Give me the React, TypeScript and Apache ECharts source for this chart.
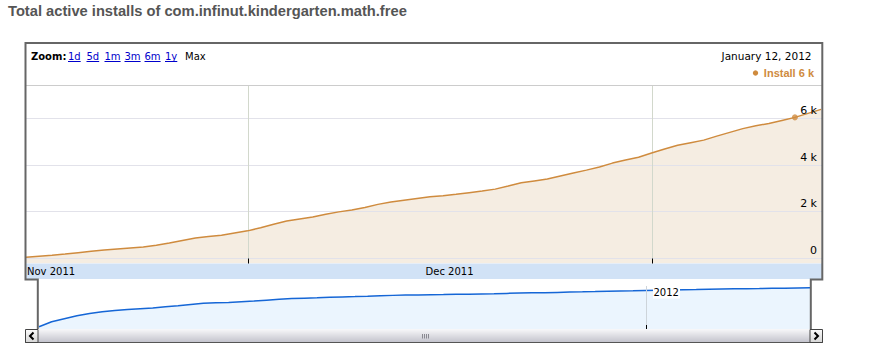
import React, { useEffect, useRef } from "react";
import * as echarts from "echarts";

// ---------- data ----------
const titleText = "Total active installs of com.infinut.kindergarten.math.free";
const seriesName = "Install";
const headerDate = "January 12, 2012";
const startDay = [2011, 10, 14]; // Nov 14, 2011 (first daily point)
const rangeStart = [2011, 10, 14];
const rangeEnd = [2012, 0, 14];
// Daily total active installs, Nov 14 2011 .. Jan 14 2012
const installs = [
  45, 85, 125, 180, 240, 300, 350, 400, 440, 480,
  560, 650, 760, 870, 930, 985, 1080, 1170, 1300, 1450,
  1590, 1680, 1760, 1880, 1980, 2060, 2170, 2300, 2400, 2480,
  2550, 2620, 2670, 2730, 2800, 2870, 2950, 3080, 3220, 3300,
  3380, 3510, 3640, 3760, 3890, 4060, 4190, 4310, 4490, 4660,
  4820, 4930, 5040, 5210, 5370, 5530, 5650, 5750, 5880, 6010,
  6180, 6350,
];
const highlightIndex = 59; // Jan 12, 2012
const highlightLabel = "6 k";
const yTickValues = [0, 2000, 4000, 6000];
const yTickLabels = ["0", "2 k", "4 k", "6 k"];
const monthTickDates = [[2011, 11, 1], [2012, 0, 1]];
const monthLabelDates = [[2011, 10, 14], [2011, 11, 16, 12]];
const monthLabelTexts = ["Nov 2011", "Dec 2011"];
const navTickDates = [[2012, 0, 1]];
const navTickLabels = ["2012"];
const zoomLinks = ["1d", "5d", "1m", "3m", "6m", "1y"];
const zoomCurrent = "Max";

// ---------- helpers ----------
const t = (a: number[]) => new Date(a[0], a[1], a[2], a[3] || 0).getTime();
const dates = installs.map((_, i) => new Date(startDay[0], startDay[1], startDay[2] + i).getTime());
const seriesData = installs.map((v, i) => [dates[i], v]);

const VERDANA = "'DejaVu Sans', Verdana, sans-serif";
const ARIAL = "Arial, 'Liberation Sans', sans-serif";
const LINE_COLOR = "#CF8B3E";
const FILL_COLOR = "#F5EDE2";
const BORDER = "#666666";

export default function App() {
  const ref = useRef<HTMLDivElement>(null);
  useEffect(() => {
    const chart = echarts.init(ref.current!, null, { renderer: "svg" });
    const xMin = t(rangeStart);
    const xMax = t(rangeEnd);
    chart.setOption({
      animation: false,
      backgroundColor: "#ffffff",
      grid: [
        { left: 26, right: 51, top: 86, height: 177.5 },
        { left: 39, right: 62, top: 280, height: 49 },
      ],
      xAxis: [
        { type: "time", gridIndex: 0, min: xMin, max: xMax, show: false },
        { type: "time", gridIndex: 1, min: xMin, max: xMax, show: false },
      ],
      yAxis: [
        { type: "value", gridIndex: 0, min: -222, max: 7348, show: false, splitLine: { show: false } },
        { type: "log", gridIndex: 1, min: 33.6, max: 16900, show: false, splitLine: { show: false } },
      ],
      series: [
        {
          type: "line", xAxisIndex: 0, yAxisIndex: 0, data: seriesData, symbol: "none",
          lineStyle: { width: 0, color: FILL_COLOR }, areaStyle: { color: FILL_COLOR, opacity: 1, origin: "start" },
          z: 1, silent: true,
        },
        {
          name: seriesName, type: "line", xAxisIndex: 0, yAxisIndex: 0, data: seriesData, symbol: "none",
          lineStyle: { width: 1.5, color: LINE_COLOR }, z: 5, silent: true,
        },
        {
          type: "scatter", xAxisIndex: 0, yAxisIndex: 0, data: [seriesData[highlightIndex]],
          symbolSize: 6, itemStyle: { color: LINE_COLOR }, z: 6, silent: true,
        },
        {
          type: "line", xAxisIndex: 1, yAxisIndex: 1, data: seriesData, symbol: "none",
          lineStyle: { width: 1.5, color: "#1566D6" },
          areaStyle: { color: "#EBF5FE", opacity: 1, origin: "start" }, z: 2, silent: true,
        },
      ],
    });

    const px = (grid: number, x: number, y: number) =>
      chart.convertToPixel({ gridIndex: grid } as any, [x, y]) as number[];

    const g: any[] = [];
    // title
    g.push({ type: "text", z: 20, style: { text: titleText, x: 8, y: 11, font: `bold 14.7px ${ARIAL}`, fill: "#555555", textAlign: "left", textVerticalAlign: "middle" } });
    // header separator
    g.push({ type: "line", z: 10, shape: { x1: 26, y1: 85.5, x2: 822, y2: 85.5 }, style: { stroke: "#cccccc", lineWidth: 1 } });
    // zoom header
    g.push({ type: "text", z: 20, style: { text: "Zoom:", x: 31, y: 56, font: `bold 10px ${VERDANA}`, fill: "#000", textAlign: "left", textVerticalAlign: "middle" } });
    const linkX = [68, 86.5, 104.5, 124.5, 144.5, 165];
    const linkW = [12.7, 12.7, 16.1, 16.1, 16.1, 12.3];
    zoomLinks.forEach((s, i) => {
      g.push({ type: "text", z: 20, style: { text: s, x: linkX[i], y: 56, font: `10px ${VERDANA}`, fill: "#0000CC", textAlign: "left", textVerticalAlign: "middle" } });
      g.push({ type: "line", z: 20, shape: { x1: linkX[i], y1: 61.5, x2: linkX[i] + linkW[i], y2: 61.5 }, style: { stroke: "#0000CC", lineWidth: 1 } });
    });
    g.push({ type: "text", z: 20, style: { text: zoomCurrent, x: 185, y: 56, font: `10px ${VERDANA}`, fill: "#000", textAlign: "left", textVerticalAlign: "middle" } });
    // date + legend
    g.push({ type: "text", z: 20, style: { text: headerDate, x: 811.5, y: 55.5, font: `10.5px ${VERDANA}`, fill: "#000", textAlign: "right", textVerticalAlign: "middle" } });
    g.push({ type: "text", z: 20, style: { text: `${seriesName} ${highlightLabel}`, x: 814, y: 73, font: `bold 11px ${ARIAL}`, fill: LINE_COLOR, textAlign: "right", textVerticalAlign: "middle" } });
    g.push({ type: "circle", z: 20, shape: { cx: 755.5, cy: 73, r: 2.7 }, style: { fill: LINE_COLOR } });

    // horizontal gridlines + y labels
    yTickValues.forEach((v, i) => {
      const p = px(0, xMin, v);
      const y = Math.round(p[1]) + 0.5;
      g.push({ type: "line", z: 3, shape: { x1: 26, y1: y, x2: 822, y2: y }, style: { stroke: "#e2e2ea", lineWidth: 1 } });
      g.push({ type: "text", z: 20, style: { text: yTickLabels[i], x: 817, y: y - 8, font: `11px ${VERDANA}`, fill: "#000", textAlign: "right", textVerticalAlign: "middle" } });
    });
    // vertical month lines + ticks
    const zeroY = Math.round(px(0, xMin, 0)[1]) + 0.5;
    monthTickDates.forEach((d) => {
      const x = Math.round(px(0, t(d), 0)[0]) + 0.5;
      g.push({ type: "line", z: 3, shape: { x1: x, y1: 86, x2: x, y2: zeroY }, style: { stroke: "#d2d8cc", lineWidth: 1 } });
      g.push({ type: "line", z: 12, shape: { x1: x, y1: zeroY, x2: x, y2: 263.5 }, style: { stroke: "#000", lineWidth: 1 } });
    });
    // x axis band + labels
    g.push({ type: "rect", z: 8, shape: { x: 26, y: 263.5, width: 796, height: 15.5 }, style: { fill: "#D1E2F6" } });
    monthLabelDates.forEach((d, i) => {
      const x = px(0, t(d), 0)[0];
      const first = i === 0;
      g.push({ type: "text", z: 20, style: { text: monthLabelTexts[i], x: first ? x + 1 : x, y: 271.5, font: `10px ${VERDANA}`, fill: "#000", textAlign: first ? "left" : "center", textVerticalAlign: "middle" } });
    });
    // navigator tick
    navTickDates.forEach((d, i) => {
      const x = Math.round(px(1, t(d), 100)[0]) + 0.5;
      g.push({ type: "line", z: 3, shape: { x1: x, y1: 286, x2: x, y2: 329 }, style: { stroke: "#cdd4da", lineWidth: 1 } });
      g.push({ type: "line", z: 12, shape: { x1: x, y1: 325, x2: x, y2: 329 }, style: { stroke: "#000", lineWidth: 1 } });
      g.push({ type: "rect", z: 11, shape: { x: x + 6.5, y: 286.5, width: 27, height: 12 }, style: { fill: "#ffffff" } });
      g.push({ type: "text", z: 20, style: { text: navTickLabels[i], x: x + 7, y: 292.5, font: `10px ${VERDANA}`, fill: "#000", textAlign: "left", textVerticalAlign: "middle" } });
    });
    // scrollbar
    const grad = (a: string, b: string) => new echarts.graphic.LinearGradient(0, 0, 0, 1, [{ offset: 0, color: a }, { offset: 1, color: b }]);
    g.push({ type: "rect", z: 14, shape: { x: 25, y: 329, width: 798, height: 13 }, style: { fill: grad("#f8f8fa", "#c4c4cd") } });
    g.push({ type: "line", z: 15, shape: { x1: 25, y1: 342.5, x2: 823, y2: 342.5 }, style: { stroke: "#555", lineWidth: 1 } });
    [422, 424, 426, 428].forEach((x) => {
      g.push({ type: "line", z: 15, shape: { x1: x + 0.5, y1: 334, x2: x + 0.5, y2: 338.5 }, style: { stroke: "#8a8a92", lineWidth: 1 } });
    });
    g.push({ type: "rect", z: 16, shape: { x: 25.5, y: 329.5, width: 12.5, height: 13 }, style: { fill: grad("#fbfbfb", "#d6d6d6"), stroke: "#444", lineWidth: 1 } });
    g.push({ type: "polyline", z: 17, shape: { points: [[33.5, 332.5], [30, 336], [33.5, 339.5]] }, style: { stroke: "#000", lineWidth: 2, fill: null } });
    g.push({ type: "rect", z: 16, shape: { x: 810, y: 329.5, width: 12.5, height: 13 }, style: { fill: grad("#fbfbfb", "#d6d6d6"), stroke: "#444", lineWidth: 1 } });
    g.push({ type: "polyline", z: 17, shape: { points: [[814.5, 332.5], [818, 336], [814.5, 339.5]] }, style: { stroke: "#000", lineWidth: 2, fill: null } });
    // panel outline
    g.push({
      type: "polyline", z: 18,
      shape: { points: [[37.8, 329], [37.8, 279.5], [25.5, 279.5], [25.5, 43], [822.3, 43], [822.3, 279.5], [810.8, 279.5], [810.8, 329]] },
      style: { stroke: BORDER, lineWidth: 2, fill: null },
    });
    chart.setOption({ graphic: g });
    return () => chart.dispose();
  }, []);
  return <div ref={ref} style={{ position: "absolute", left: 0, top: 0, width: 872, height: 358 }} />;
}
